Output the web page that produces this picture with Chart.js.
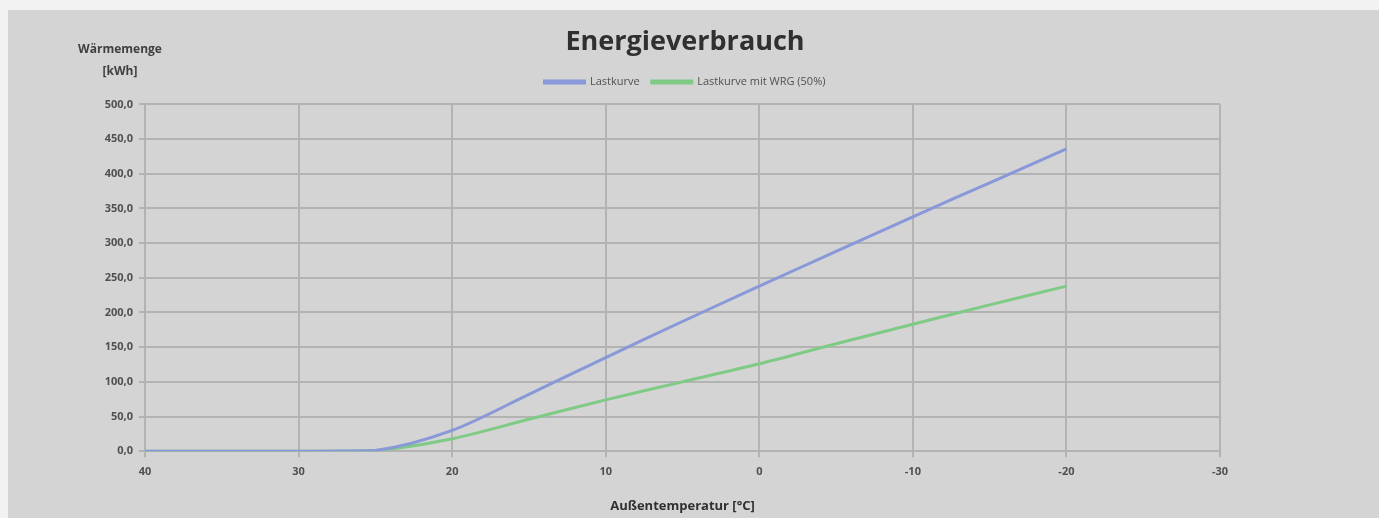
<!DOCTYPE html>
<html>
<head>
  <title>Energieverbrauch</title>
  <style>
    body { margin: 0; background: #f2f2f2; }
    #wrap { position: absolute; left: 8px; top: 10px; width: 1371px; height: 508px; background: #d4d4d4; }
    canvas { display: block; }
  </style>
</head>
<body>
  <div id="wrap"><canvas id="chart" width="1371" height="508"></canvas></div>
  <script src="https://cdn.jsdelivr.net/npm/chart.js@4"></script>
  <script>
    // Außentemperatur in °C
    const temps = [40, 35, 30, 25, 20, 15, 10, 5, 0, -5, -10, -15, -20];
    // Wärmemenge in kWh
    const lastkurve = [0, 0, 0, 1, 30, 82, 135, 187, 238, 288, 338, 387, 436];
    const lastkurveWrg = [0, 0, 0, 1, 18, 46, 74, 100, 126, 155, 183, 211, 238];
    const seriesNames = ['Lastkurve', 'Lastkurve mit WRG (50%)'];
    const xTicks = [40, 30, 20, 10, 0, -10, -20, -30];

    const toPoints = vals => temps.map((t, i) => ({ x: t, y: vals[i] }));
    const font = '"Open Sans", sans-serif';

    // y-Achsentitel oben links, wie im Original
    const yTitle = {
      id: 'yTitle',
      afterDraw(chart) {
        const ctx = chart.ctx;
        ctx.save();
        ctx.font = 'bold 12px ' + font;
        ctx.fillStyle = '#404040';
        ctx.textAlign = 'center';
        ctx.fillText('Wärmemenge', 112, 40);
        ctx.fillText('[kWh]', 112, 62);
        ctx.restore();
      }
    };

    // etwas Luft unter der Legende
    const legendGap = {
      id: 'legendGap',
      beforeInit(chart) {
        const fit = chart.legend.fit;
        chart.legend.fit = function () {
          fit.call(this);
          this.height += 7;
        };
      }
    };

    new Chart(document.getElementById('chart'), {
      type: 'line',
      data: {
        datasets: [{
          label: seriesNames[0],
          data: toPoints(lastkurve),
          borderColor: '#8898d8',
          borderWidth: 3,
          pointRadius: 0,
          tension: 0.3,
          fill: false
        }, {
          label: seriesNames[1],
          data: toPoints(lastkurveWrg),
          borderColor: '#7fca85',
          borderWidth: 3,
          pointRadius: 0,
          tension: 0.3,
          fill: false
        }]
      },
      options: {
        responsive: false,
        animation: false,
        layout: { padding: { left: 40, right: 57, top: 6, bottom: 4 } },
        plugins: {
          title: {
            display: true,
            text: 'Energieverbrauch',
            color: '#303030',
            font: { family: font, size: 27, weight: 'bold' },
            padding: { top: 10, bottom: 6 }
          },
          legend: {
            labels: {
              boxWidth: 40,
              boxHeight: 2,
              color: '#505050',
              font: { family: font, size: 11 },
              padding: 12
            }
          },
          tooltip: { enabled: false }
        },
        scales: {
          x: {
            type: 'linear',
            reverse: true,
            min: -30,
            max: 40,
            afterBuildTicks: s => { s.ticks = xTicks.map(v => ({ value: v })); },
            grid: { color: '#b3b3b3', lineWidth: 2, tickLength: 6 },
            border: { color: '#b3b3b3', width: 2 },
            ticks: {
              color: '#505050',
              font: { family: font, size: 11, weight: 'bold' },
              padding: 8
            },
            title: {
              display: true,
              text: 'Außentemperatur [°C]',
              color: '#303030',
              font: { family: font, size: 13, weight: 'bold' },
              padding: { top: 12, bottom: 0 }
            }
          },
          y: {
            min: 0,
            max: 500,
            afterFit: s => { s.width = 97; },
            grid: { color: '#b3b3b3', lineWidth: 2, tickLength: 6 },
            border: { color: '#b3b3b3', width: 2 },
            ticks: {
              stepSize: 50,
              color: '#505050',
              font: { family: font, size: 11, weight: 'bold' },
              padding: 6,
              callback: v => v.toFixed(1).replace('.', ',')
            }
          },
          // leerer Rand rechts, damit Titel und Legende mittig wie im Original sitzen
          y2: {
            position: 'right',
            afterFit: s => { s.width = 102; },
            grid: { display: false },
            border: { display: false },
            ticks: { display: false }
          }
        }
      },
      plugins: [yTitle, legendGap]
    });
  </script>
</body>
</html>
